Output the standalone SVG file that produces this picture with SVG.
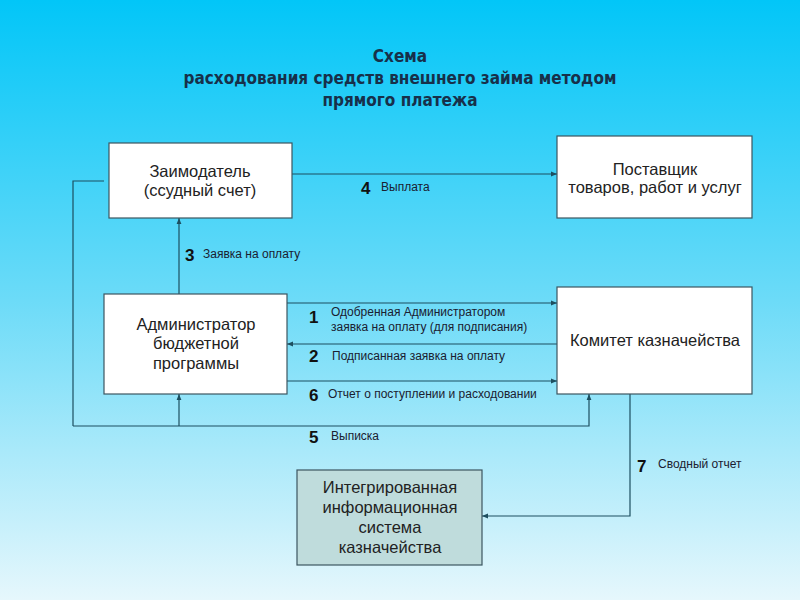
<svg xmlns="http://www.w3.org/2000/svg" width="800" height="600" viewBox="0 0 800 600">
<defs>
<linearGradient id="bg" x1="0" y1="0" x2="0" y2="1">
<stop offset="0" stop-color="#02c6f8"/>
<stop offset="0.5" stop-color="#6cdbf8"/>
<stop offset="1" stop-color="#e6f7fc"/>
</linearGradient>
<marker id="ar" viewBox="0 0 10 10" refX="10" refY="5" markerWidth="6" markerHeight="6" orient="auto" markerUnits="userSpaceOnUse">
<path d="M0,1 L10,5 L0,9 z" fill="#1d4f60"/>
</marker>
<style>
.box{fill:#ffffff;stroke:#3c5560;stroke-width:1.2}
.box2{fill:#bfdcdc;stroke:#3c5560;stroke-width:1.2}
.bt{font-family:"Liberation Sans",Arial,sans-serif;font-size:16.5px;fill:#222;text-anchor:middle}
.ln{fill:none;stroke:#1d4f60;stroke-width:1.2}
.num{font-family:"Liberation Sans",Arial,sans-serif;font-size:17px;font-weight:bold;fill:#111}
.lb{font-family:"Liberation Sans",Arial,sans-serif;font-size:12px;fill:#1a2030}
.title{font-family:"Liberation Sans Narrow","DejaVu Sans Condensed","Liberation Sans",sans-serif;font-size:17px;font-weight:bold;fill:#17304a;text-anchor:middle}
</style>
</defs>
<rect width="800" height="600" fill="url(#bg)"/>
<g id="title">
<text class="title" x="400" y="62">Схема</text>
<text class="title" x="400" y="84">расходования средств внешнего займа методом</text>
<text class="title" x="400" y="106">прямого платежа</text>
</g>
<g id="connectors">
<path class="ln" d="M292,174 H557" marker-end="url(#ar)"/>
<path class="ln" d="M179,294 V218" marker-end="url(#ar)"/>
<path class="ln" d="M287,303 H557" marker-end="url(#ar)"/>
<path class="ln" d="M557,344 H287" marker-end="url(#ar)"/>
<path class="ln" d="M287,381 H557" marker-end="url(#ar)"/>
<path class="ln" d="M73,426 V181 H104"/>
<path class="ln" d="M73,426 H589 V394" marker-end="url(#ar)"/>
<path class="ln" d="M179,426 V394" marker-end="url(#ar)"/>
<path class="ln" d="M630,394 V516 H482" marker-end="url(#ar)"/>
</g>
<g id="labels">
<text class="num" x="361" y="194">4</text>
<text class="lb" x="381" y="191">Выплата</text>
<text class="num" x="185" y="261">3</text>
<text class="lb" x="203" y="258">Заявка на оплату</text>
<text class="num" x="309" y="323">1</text>
<text class="lb" x="331" y="316">Одобренная Администратором</text>
<text class="lb" x="331" y="331">заявка на оплату (для подписания)</text>
<text class="num" x="309" y="362">2</text>
<text class="lb" x="332" y="360">Подписанная заявка на оплату</text>
<text class="num" x="309" y="401">6</text>
<text class="lb" x="328" y="398">Отчет о поступлении и расходовании</text>
<text class="num" x="309" y="443">5</text>
<text class="lb" x="331" y="440">Выписка</text>
<text class="num" x="637" y="472">7</text>
<text class="lb" x="658" y="468">Сводный отчет</text>
</g>
<g id="zaimodatel">
<rect class="box" x="109" y="143" width="183" height="75"/>
<text class="bt" x="200" y="177">Заимодатель</text>
<text class="bt" x="200" y="196">(ссудный счет)</text>
</g>
<g id="postavshchik">
<rect class="box" x="557" y="136" width="195" height="82"/>
<text class="bt" x="655" y="175">Поставщик</text>
<text class="bt" x="655" y="193">товаров, работ и услуг</text>
</g>
<g id="administrator">
<rect class="box" x="104" y="294" width="183" height="100"/>
<text class="bt" x="196" y="330">Администратор</text>
<text class="bt" x="196" y="349">бюджетной</text>
<text class="bt" x="196" y="369">программы</text>
</g>
<g id="komitet">
<rect class="box" x="557" y="287" width="195" height="107"/>
<text class="bt" x="655" y="346">Комитет казначейства</text>
</g>
<g id="iis">
<rect class="box2" x="297" y="470" width="185" height="95"/>
<text class="bt" x="390" y="493">Интегрированная</text>
<text class="bt" x="390" y="513">информационная</text>
<text class="bt" x="390" y="533">система</text>
<text class="bt" x="390" y="553">казначейства</text>
</g>
</svg>
